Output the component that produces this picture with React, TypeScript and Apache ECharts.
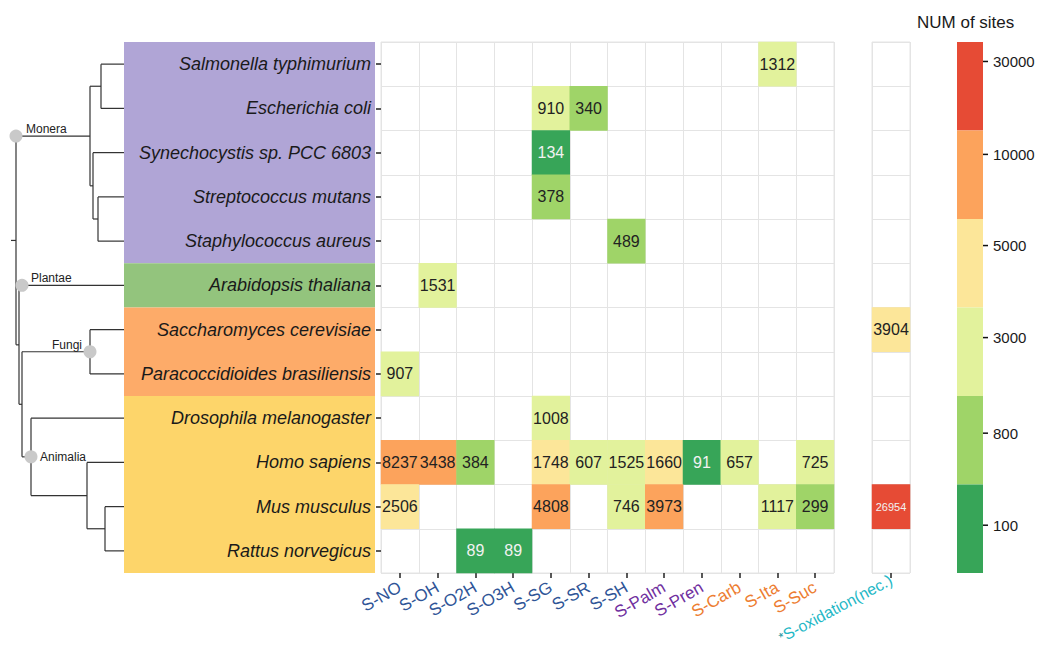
import React, { useEffect, useRef } from "react";
import * as echarts from "echarts";

// ---------- data ----------
const species = [
  "Salmonella typhimurium",
  "Escherichia coli",
  "Synechocystis sp. PCC 6803",
  "Streptococcus mutans",
  "Staphylococcus aureus",
  "Arabidopsis thaliana",
  "Saccharomyces cerevisiae",
  "Paracoccidioides brasiliensis",
  "Drosophila melanogaster",
  "Homo sapiens",
  "Mus musculus",
  "Rattus norvegicus",
];

const sites = ["S-NO", "S-OH", "S-O2H", "S-O3H", "S-SG", "S-SR", "S-SH", "S-Palm", "S-Pren", "S-Carb", "S-Ita", "S-Suc"];
const siteGroup = ["ox", "ox", "ox", "ox", "ox", "ox", "ox", "lip", "lip", "acyl", "acyl", "acyl"];

// rows follow species order, columns follow sites order
const values: (number | null)[][] = [
  [null, null, null, null, null, null, null, null, null, null, 1312, null],
  [null, null, null, null, 910, 340, null, null, null, null, null, null],
  [null, null, null, null, 134, null, null, null, null, null, null, null],
  [null, null, null, null, 378, null, null, null, null, null, null, null],
  [null, null, null, null, null, null, 489, null, null, null, null, null],
  [null, 1531, null, null, null, null, null, null, null, null, null, null],
  [null, null, null, null, null, null, null, null, null, null, null, null],
  [907, null, null, null, null, null, null, null, null, null, null, null],
  [null, null, null, null, 1008, null, null, null, null, null, null, null],
  [8237, 3438, 384, null, 1748, 607, 1525, 1660, 91, 657, null, 725],
  [2506, null, null, null, 4808, null, 746, 3973, null, null, 1117, 299],
  [null, null, 89, 89, null, null, null, null, null, null, null, null],
];

const necSite = ["*S-oxidation(nec.)"];
const necValues: (number | null)[] = [null, null, null, null, null, null, 3904, null, null, null, 26954, null];

const groups = [
  { name: "Monera", from: 0, to: 5, color: "#b0a5d6" },
  { name: "Plantae", from: 5, to: 6, color: "#93c47d" },
  { name: "Fungi", from: 6, to: 8, color: "#fdab69" },
  { name: "Animalia", from: 8, to: 12, color: "#fdd56a" },
];

const legendTitle = "NUM of sites";
const legendLabels = ["30000", "10000", "5000", "3000", "800", "100"];
const bandColors = ["#e64b35", "#fca35c", "#fce699", "#e2f29c", "#9fd468", "#37a558"];

// ---------- layout ----------
const W = 1043;
const HGT = 650;
const GT = 42;
const GH = 531;
const GL = 381;
const GW = 453;
const NEC_L = 872;
const NEC_W = 38;
const RH = GH / species.length;
const FONT = "'Liberation Sans', Arial, Helvetica, sans-serif";

const rowY = (i: number) => GT + (i + 0.5) * RH;
const mid = (a: number, b: number) => (a + b) / 2;

function buildDendrogram() {
  const els: any[] = [];
  const stroke = "#333";
  const line = (x1: number, y1: number, x2: number, y2: number) =>
    els.push({ type: "line", z: 5, shape: { x1, y1, x2, y2 }, style: { stroke, lineWidth: 1.2 } });
  const LX = 124;
  const leafX = [101, 101, 93, 98, 98, 19, 90, 90, 31, 87, 105, 105];
  leafX.forEach((x, i) => line(x, rowY(i), LX, rowY(i)));

  const yA = mid(rowY(0), rowY(1));
  line(101, rowY(0), 101, rowY(1));
  line(90, yA, 101, yA);
  const yB = mid(rowY(3), rowY(4));
  line(98, rowY(3), 98, rowY(4));
  line(93, yB, 98, yB);
  const yC = mid(rowY(2), yB);
  line(93, rowY(2), 93, yB);
  line(90, yC, 93, yC);
  const yD = mid(yA, yC);
  line(90, yA, 90, yC);
  line(16, yD, 90, yD);

  const yF = mid(rowY(6), rowY(7));
  line(90, rowY(6), 90, rowY(7));
  line(22, yF, 90, yF);

  const yM = mid(rowY(10), rowY(11));
  line(105, rowY(10), 105, rowY(11));
  line(87, yM, 105, yM);
  const yH = mid(rowY(9), yM);
  line(87, rowY(9), 87, yM);
  line(31, yH, 87, yH);
  const yAn = mid(rowY(8), yH);
  line(31, rowY(8), 31, yH);
  line(22, yAn, 31, yAn);

  const yFA = mid(yF, yAn);
  line(22, yF, 22, yAn);
  line(19, yFA, 22, yFA);
  const yP = mid(rowY(5), yFA);
  line(19, rowY(5), 19, yFA);
  line(16, yP, 19, yP);
  const yR = mid(yD, yP);
  line(16, yD, 16, yP);
  line(11, yR, 16, yR);

  const circle = (cx: number, cy: number) =>
    els.push({ type: "circle", z: 6, shape: { cx, cy, r: 6.5 }, style: { fill: "#c9c9c9" } });
  circle(16, yD);
  circle(22, rowY(5));
  circle(90, yF);
  circle(31, yAn);

  const label = (text: string, x: number, y: number, align: string) =>
    els.push({
      type: "text",
      z: 7,
      x,
      y,
      style: { text, fill: "#222", font: `12px ${FONT}`, align, verticalAlign: "middle" },
    });
  label("Monera", 26, yD - 7, "left");
  label("Plantae", 31, rowY(5) - 7, "left");
  label("Fungi", 82, yF - 7, "right");
  label("Animalia", 40, yAn, "left");
  return els;
}

function buildGroupBoxes() {
  return groups.map((g) => ({
    type: "rect",
    z: -1,
    shape: { x: 124, y: GT + g.from * RH, width: 251, height: (g.to - g.from) * RH },
    style: { fill: g.color },
  }));
}

function buildLegend() {
  const els: any[] = [];
  const bx = 957;
  const bw = 26;
  const bh = GH / bandColors.length;
  bandColors.forEach((c, i) => {
    els.push({ type: "rect", shape: { x: bx, y: GT + i * bh, width: bw, height: bh }, style: { fill: c } });
  });
  const labelFrac = [0.22, 0.27, 0.3, 0.34, 0.42, 0.46];
  legendLabels.forEach((t, i) => {
    const y = GT + (i + labelFrac[i]) * bh;
    els.push({ type: "line", shape: { x1: bx + bw, y1: y, x2: bx + bw + 5, y2: y }, style: { stroke: "#111", lineWidth: 1.5 } });
    els.push({
      type: "text",
      x: bx + bw + 10,
      y,
      style: { text: t, fill: "#1a1a1a", font: `15px ${FONT}`, align: "left", verticalAlign: "middle" },
    });
  });
  els.push({
    type: "text",
    x: 917,
    y: 22,
    style: { text: legendTitle, fill: "#1a1a1a", font: `17px ${FONT}`, align: "left", verticalAlign: "middle" },
  });
  return els;
}

function cellItem(x: number, y: number, v: number) {
  const light = v < 200 || v >= 20000;
  return {
    value: [x, y, v],
    label: { color: light ? "#f2f2f2" : "#222", fontSize: v >= 20000 ? 11 : 16 },
  };
}

export default function App() {
  const ref = useRef<HTMLDivElement>(null);
  useEffect(() => {
    if (!ref.current) return;
    const chart = echarts.init(ref.current, null, { renderer: "svg" });

    const mainData: any[] = [];
    values.forEach((row, r) =>
      row.forEach((v, c) => {
        if (v != null) mainData.push(cellItem(c, r, v));
      })
    );
    const necData: any[] = [];
    necValues.forEach((v, r) => {
      if (v != null) necData.push(cellItem(0, r, v));
    });

    const splitLine = { show: true, lineStyle: { color: "#e4e4e4", width: 1 } };
    const tick = { show: true, alignWithLabel: true, length: 5, lineStyle: { color: "#222", width: 1.5 } };

    chart.setOption({
      animation: false,
      backgroundColor: "#fff",
      grid: [
        {
          left: GL, top: GT, width: GW, height: GH, show: true, borderColor: "#e4e4e4", borderWidth: 1,
          backgroundColor: "#fff", containLabel: false, outerBoundsMode: "none",
        },
        {
          left: NEC_L, top: GT, width: NEC_W, height: GH, show: true, borderColor: "#e4e4e4", borderWidth: 1,
          backgroundColor: "#fff", containLabel: false, outerBoundsMode: "none",
        },
      ],
      xAxis: [
        {
          type: "category",
          gridIndex: 0,
          data: sites,
          axisLine: { show: false },
          axisTick: tick,
          splitLine,
          axisLabel: {
            interval: 0,
            rotate: 30,
            margin: 13,
            fontSize: 17,
            fontFamily: FONT,
            formatter: (val: string, idx: number) => `{${siteGroup[idx]}|${val}}`,
            rich: {
              ox: { color: "#2f5597", fontSize: 17, fontFamily: FONT },
              lip: { color: "#7030a0", fontSize: 17, fontFamily: FONT },
              acyl: { color: "#ed7d31", fontSize: 17, fontFamily: FONT },
            },
          },
        },
        {
          type: "category",
          gridIndex: 1,
          data: necSite,
          axisLine: { show: false },
          axisTick: tick,
          splitLine,
          axisLabel: {
            interval: 0,
            rotate: 28,
            margin: 6,
            fontSize: 16,
            fontFamily: FONT,
            formatter: (val: string) => `{star|${val.slice(0, 1)}}{nec|${val.slice(1)}}`,
            rich: {
              star: { color: "#178f98", fontSize: 13, fontFamily: FONT },
              nec: { color: "#1fb8c6", fontSize: 16, fontFamily: FONT },
            },
          },
        },
      ],
      yAxis: [
        {
          type: "category",
          gridIndex: 0,
          data: species,
          inverse: true,
          axisLine: { show: false },
          axisTick: tick,
          splitLine,
          axisLabel: {
            interval: 0,
            margin: 10,
            fontSize: 18,
            fontStyle: "italic",
            fontFamily: FONT,
            color: "#1a1a1a",
          },
        },
        {
          type: "category",
          gridIndex: 1,
          data: species,
          inverse: true,
          axisLine: { show: false },
          axisTick: { show: false },
          axisLabel: { show: false },
          splitLine,
        },
      ],
      visualMap: [
        {
          type: "piecewise",
          show: false,
          seriesIndex: 0,
          dimension: 2,
          pieces: [
            { gte: 20000, color: bandColors[0] },
            { gte: 3000, lt: 20000, color: bandColors[1] },
            { gte: 1600, lt: 3000, color: bandColors[2] },
            { gte: 600, lt: 1600, color: bandColors[3] },
            { gte: 200, lt: 600, color: bandColors[4] },
            { lt: 200, color: bandColors[5] },
          ],
        },
        {
          type: "piecewise",
          show: false,
          seriesIndex: 1,
          dimension: 2,
          pieces: [
            { gte: 10000, color: bandColors[0] },
            { gte: 5000, lt: 10000, color: bandColors[1] },
            { lt: 5000, color: bandColors[2] },
          ],
        },
      ],
      series: [
        {
          type: "heatmap",
          xAxisIndex: 0,
          yAxisIndex: 0,
          data: mainData,
          label: {
            show: true,
            fontFamily: FONT,
            formatter: (p: any) => String(p.value[2]),
          },
          emphasis: { disabled: true },
        },
        {
          type: "heatmap",
          xAxisIndex: 1,
          yAxisIndex: 1,
          data: necData,
          label: {
            show: true,
            fontFamily: FONT,
            formatter: (p: any) => String(p.value[2]),
          },
          emphasis: { disabled: true },
        },
      ],
      graphic: [...buildGroupBoxes(), ...buildDendrogram(), ...buildLegend()],
    });
    return () => chart.dispose();
  }, []);

  return (
    <div
      ref={ref}
      style={{ position: "fixed", left: 0, top: 0, width: W, height: HGT, background: "#fff" }}
    />
  );
}
